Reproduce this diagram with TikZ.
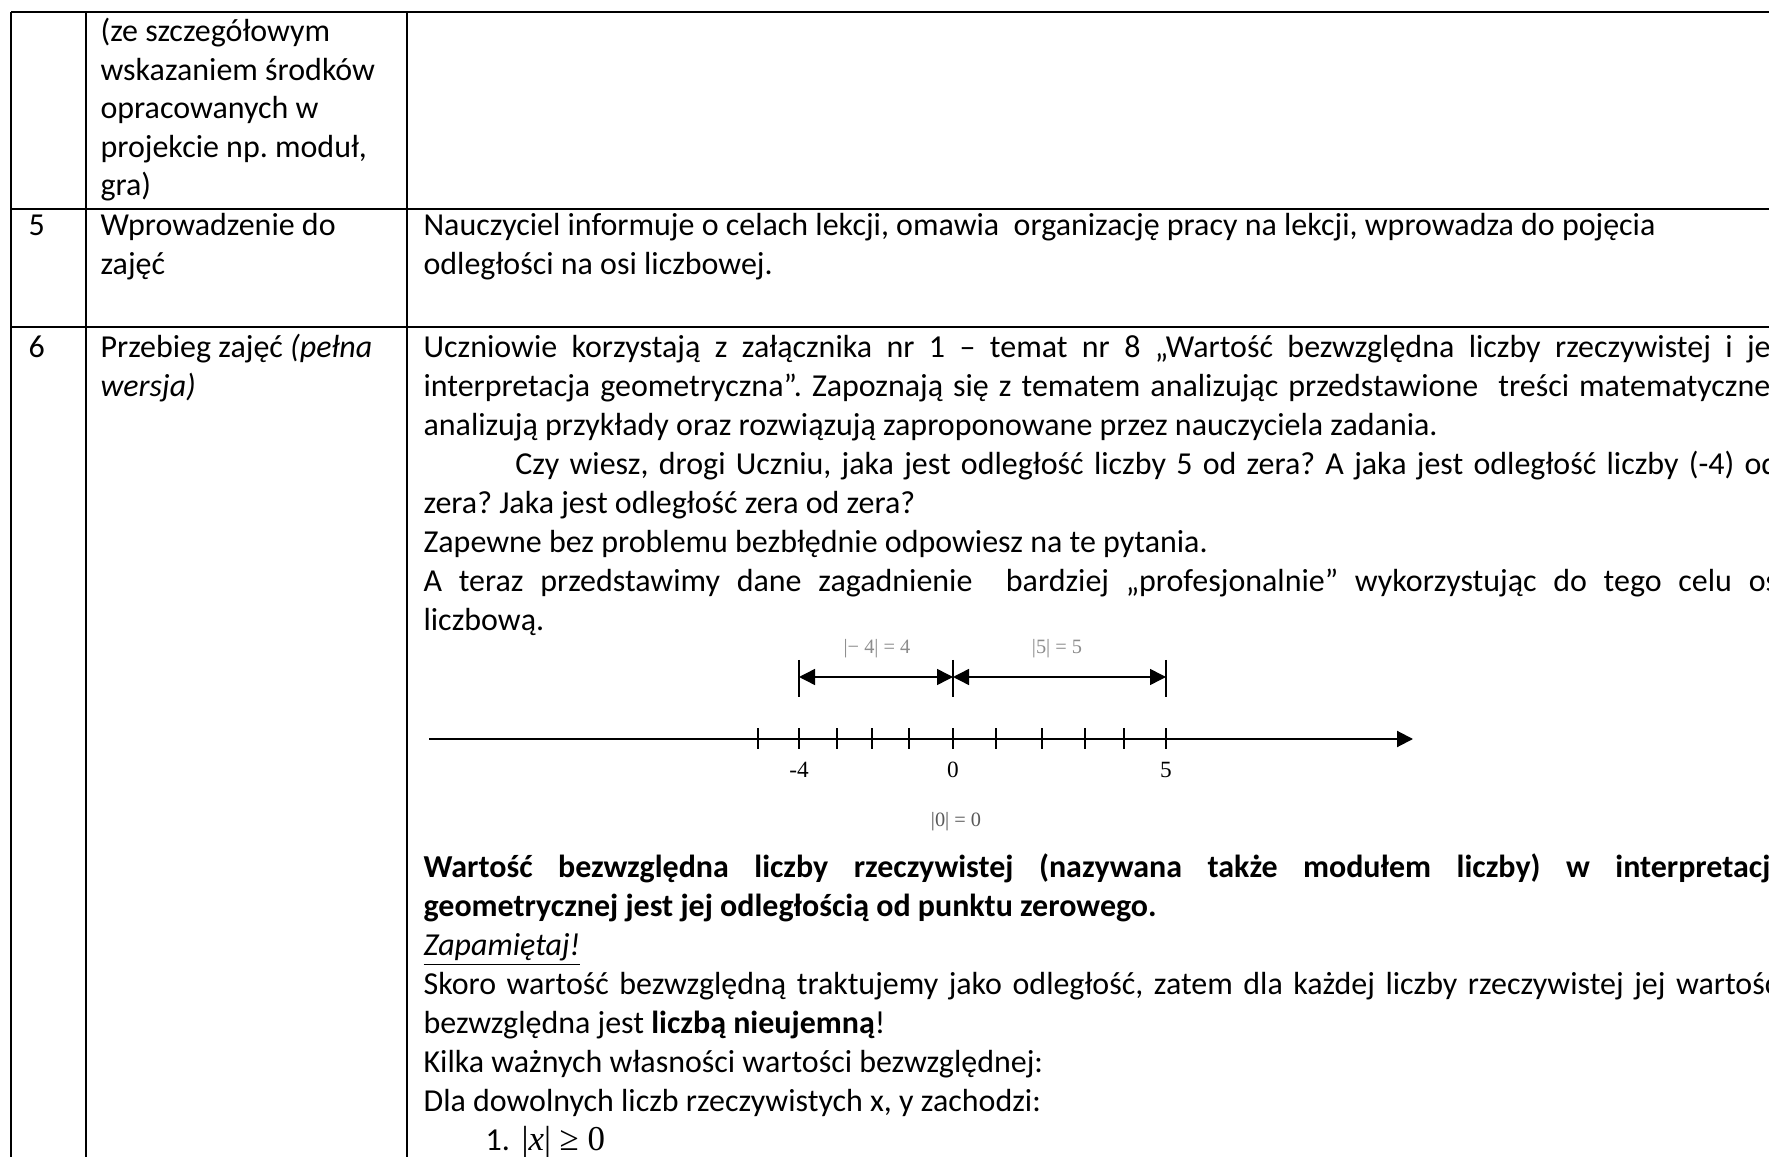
\documentclass[tikz,border=0pt]{standalone}
\usepackage{fontspec}
\setmainfont{Carlito}
\newfontfamily\tnr{Liberation Serif}
\usetikzlibrary{arrows.meta}
\frenchspacing

\newlength{\cellw}
\setlength{\cellw}{466pt}
\newcommand{\jline}[1]{\hbox to \cellw{#1}}

\tikzset{
  rule/.style={line width=0.7pt},
  txt/.style={anchor=base west, inner sep=0pt, font=\fontsize{11}{13}\selectfont},
  absval/.style={inner sep=0pt, text=black!45, font=\tnr\fontsize{7}{7}\selectfont},
  numlbl/.style={inner sep=0pt, font=\tnr\fontsize{8}{8}\selectfont},
  numtip/.tip={Triangle[length=5.5pt, width=5.5pt]}
}

\begin{document}
\begin{tikzpicture}[x=0.344pt, y=-0.344pt]
\useasboundingbox (0,0) rectangle (1769,1157);
\fill[white] (0,0) rectangle (1769,1157);
\clip (0,0) rectangle (1769,1157);

% Table grid
\draw[rule] (11,12) -- (1769,12);
\draw[rule] (11,209) -- (1769,209);
\draw[rule] (11,327) -- (1769,327);
\foreach \cx in {11,86,407}
  \draw[rule] (\cx,12) -- (\cx,1157);

% Row 1 (continued)
\node[txt] (r1a) at (100,42) {(ze szczegółowym};
\node[txt] (r1b) at (100,81) {wskazaniem środków};
\node[txt] (r1c) at (100,119) {opracowanych w};
\node[txt] (r1d) at (100,158) {projekcie np. moduł,};
\node[txt] (r1e) at (100,196) {gra)};

% Row 5
\node[txt] (r5no) at (28,236) {5};
\node[txt] (r5a) at (100,236) {Wprowadzenie do};
\node[txt] (r5b) at (100,275) {zajęć};
\node[txt] (r5c) at (423,236) {Nauczyciel informuje o celach lekcji, omawia \ organizację pracy na lekcji, wprowadza do pojęcia};
\node[txt] (r5d) at (423,275) {odległości na osi liczbowej.};

% Row 6
\node[txt] (r6no) at (28,358) {6};
\node[txt] (r6a) at (100,358) {Przebieg zajęć \textit{(pełna}};
\node[txt] (r6b) at (100,397) {\textit{wersja)}};

\node[txt] (p1) at (423,358) {\jline{Uczniowie korzystają z załącznika nr 1 – temat nr 8 „Wartość bezwzględna liczby rzeczywistej i jej}};
\node[txt] (p2) at (423,397) {\jline{interpretacja geometryczna”. Zapoznają się z tematem analizując przedstawione \ treści matematyczne,}};
\node[txt] (p3) at (423,436) {analizują przykłady oraz rozwiązują zaproponowane przez nauczyciela zadania.};
\node[txt] (p4) at (423,475) {\jline{\hspace{31.6pt}Czy wiesz, drogi Uczniu, jaka jest odległość liczby 5 od zera? A jaka jest odległość liczby (-4) od}};
\node[txt] (p5) at (423,514) {zera? Jaka jest odległość zera od zera?};
\node[txt] (p6) at (423,553) {Zapewne bez problemu bezbłędnie odpowiesz na te pytania.};
\node[txt] (p7) at (423,592) {\jline{A teraz przedstawimy dane zagadnienie \ bardziej „profesjonalnie” wykorzystując do tego celu oś}};
\node[txt] (p8) at (423,631) {liczbową.};

% Number line
\coordinate (axL) at (429,739);
\coordinate (axR) at (1413,739);
\draw[line width=0.7pt, -{numtip}] (axL) -- (axR);
\foreach \t in {758,799,837,872,909,953,996,1042,1085,1124,1166}
  \draw[line width=0.5pt] (\t,728) -- (\t,749);

% Distance brackets
\foreach \b/\n in {799/m,953/z,1166/p} {
  \coordinate (top\n) at (\b,660);
  \coordinate (bot\n) at (\b,697);
  \coordinate (mid\n) at (\b,677);
  \draw[line width=0.6pt] (top\n) -- (bot\n);
}
\draw[line width=0.5pt, {numtip}-{numtip}] (midm) -- (midz);
\draw[line width=0.5pt, {numtip}-{numtip}] (midz) -- (midp);

\node[absval] (absm) at (877,649) {|− 4| = 4};
\node[absval] (absp) at (1057,649) {|5| = 5};
\node[numlbl] (lm) at (799,770) {-4};
\node[numlbl] (lz) at (953,770) {0};
\node[numlbl] (lp) at (1166,770) {5};
\node[absval, text=black!65] (absz) at (956,822) {|0| = 0};

% Definition and properties
\node[txt] (q1) at (423,877) {\jline{\bfseries Wartość bezwzględna liczby rzeczywistej (nazywana także modułem liczby) w interpretacji}};
\node[txt] (q2) at (423,916) {\textbf{geometrycznej jest jej odległością od punktu zerowego.}};
\node[txt] (q3) at (423,955) {\underline{\textit{Zapamiętaj!}}};
\node[txt] (q4) at (423,994) {\jline{Skoro wartość bezwzględną traktujemy jako odległość, zatem dla każdej liczby rzeczywistej jej wartość}};
\node[txt] (q5) at (423,1033) {bezwzględna jest \textbf{liczbą nieujemną}!};
\node[txt] (q6) at (423,1072) {Kilka ważnych własności wartości bezwzględnej:};
\node[txt] (q7) at (423,1111) {Dla dowolnych liczb rzeczywistych x, y zachodzi:};
\node[txt] (q8) at (485,1150) {1.};
\node[txt, font=\tnr\fontsize{12}{12}\selectfont] (q8x) at (521,1150) {|\textit{x}| ≥ 0};

\end{tikzpicture}
\end{document}
